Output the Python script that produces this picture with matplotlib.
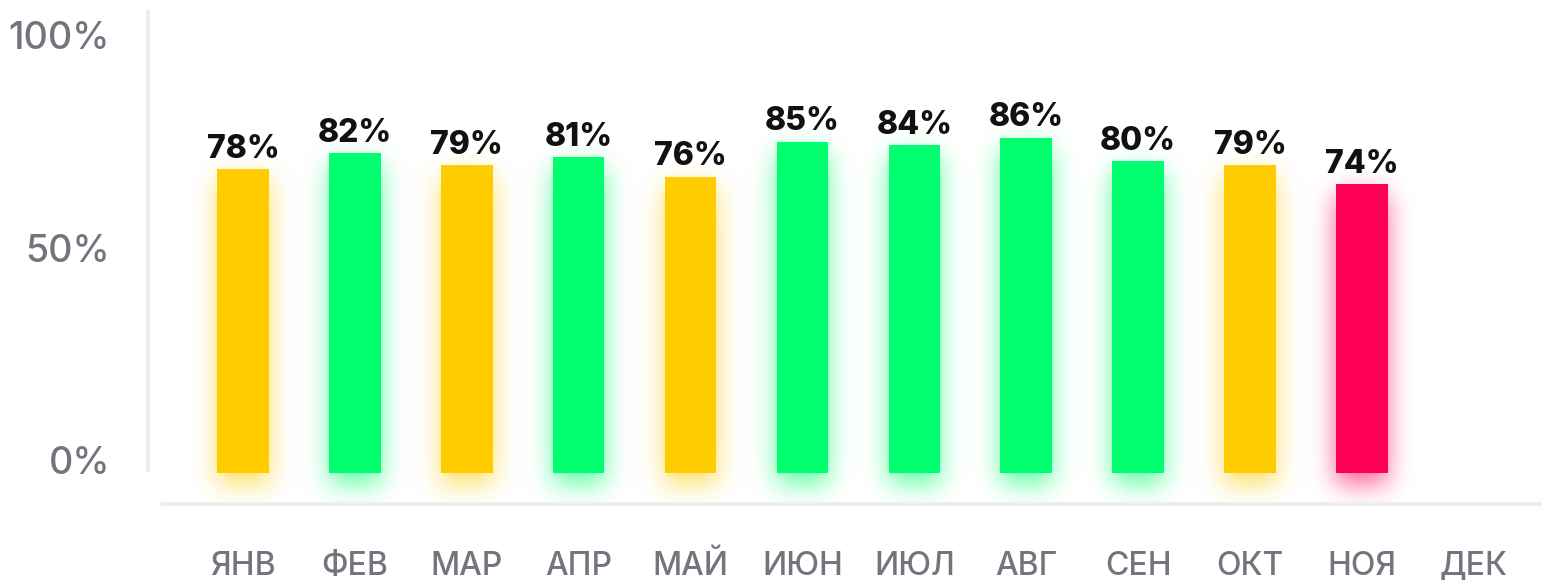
import math
import matplotlib
matplotlib.use("Agg")
import matplotlib.pyplot as plt
import numpy as np
from matplotlib.colors import to_rgb

plt.rcParams['font.family'] = ['Inter', 'DejaVu Sans']

# data
months = ["ЯНВ", "ФЕВ", "МАР", "АПР", "МАЙ", "ИЮН", "ИЮЛ", "АВГ", "СЕН", "ОКТ", "НОЯ", "ДЕК"]
values = [78, 82, 79, 81, 76, 85, 84, 86, 80, 79, 74]
colors = ["#FFCC00", "#00FF6E", "#FFCC00", "#00FF6E", "#FFCC00", "#00FF6E",
          "#00FF6E", "#00FF6E", "#00FF6E", "#FFCC00", "#FF0055"]
ytick_labels = ["0%", "50%", "100%"]
ytick_pos = [3.3, 57.7, 112.3]

fig = plt.figure(figsize=(15.42, 5.87), dpi=100)
ax = fig.add_axes([163 / 1542, 83 / 587, 1379 / 1542, 504 / 587])

xlim = (-0.715, 11.61)
ylim = (-7.95, 121.3)
ax.set_xlim(*xlim)
ax.set_ylim(*ylim)

x = list(range(len(values)))
bar_w = 0.46

# soft glow (blurred, slightly lowered copy of each bar)
erf = np.frompyfunc(math.erf, 1, 1)
gx = np.linspace(xlim[0], xlim[1], 1379)
gy = np.linspace(ylim[0], ylim[1], 504)
sx = 0.11   # blur in x units
sy = 3.4    # blur in y units
shift = 2.8
rgba = np.zeros((len(gy), len(gx), 4))
for xi, v, c in zip(x, values, colors):
    fx = 0.5 * (erf((gx - (xi - bar_w / 2)) / (sx * 1.414)).astype(float)
                - erf((gx - (xi + bar_w / 2)) / (sx * 1.414)).astype(float))
    fy = 0.5 * (erf((gy - (0 - shift)) / (sy * 1.414)).astype(float)
                - erf((gy - (v - shift)) / (sy * 1.414)).astype(float))
    a = np.outer(fy, fx) * 0.65
    r, g, b = to_rgb(c)
    rgba[..., 0] += a * r
    rgba[..., 1] += a * g
    rgba[..., 2] += a * b
    rgba[..., 3] += a
alpha = np.clip(rgba[..., 3], 1e-9, None)
img = np.dstack([rgba[..., 0] / alpha, rgba[..., 1] / alpha, rgba[..., 2] / alpha,
                 np.clip(rgba[..., 3], 0, 1)])
img[..., :3] = np.clip(img[..., :3], 0, 1)
ax.imshow(img, extent=(xlim[0], xlim[1], ylim[0], ylim[1]), origin="lower",
          aspect="auto", interpolation="bilinear", zorder=1)

ax.bar(x, values, width=bar_w, color=colors, linewidth=0, zorder=3)

for xi, v in zip(x, values):
    ax.annotate(f"{v}%", (xi, v), xytext=(0, 3), textcoords="offset points",
                ha="center", va="bottom", fontsize=23, fontweight="heavy",
                color="#111111", zorder=4)

ax.set_xlim(*xlim)
ax.set_ylim(*ylim)

ax.set_xticks(range(len(months)))
ax.set_xticklabels(months, fontsize=23, color="#74747e", fontweight="medium")
ax.set_yticks(ytick_pos)
ax.set_yticklabels(ytick_labels, fontsize=27, color="#74747e", fontweight="medium")
ax.tick_params(axis="x", length=0, pad=34)
ax.tick_params(axis="y", length=0, pad=38)

for side in ["top", "right", "left"]:
    ax.spines[side].set_visible(False)
ax.spines["bottom"].set_color("#eeeeee")
ax.spines["bottom"].set_linewidth(3)

# thin vertical guide on the left
ax.plot([-0.85, -0.85], [0.8, 118.2], color="#eeeeee", linewidth=3,
        clip_on=False, zorder=0)

fig.savefig("out.png", dpi=100, facecolor="white")
